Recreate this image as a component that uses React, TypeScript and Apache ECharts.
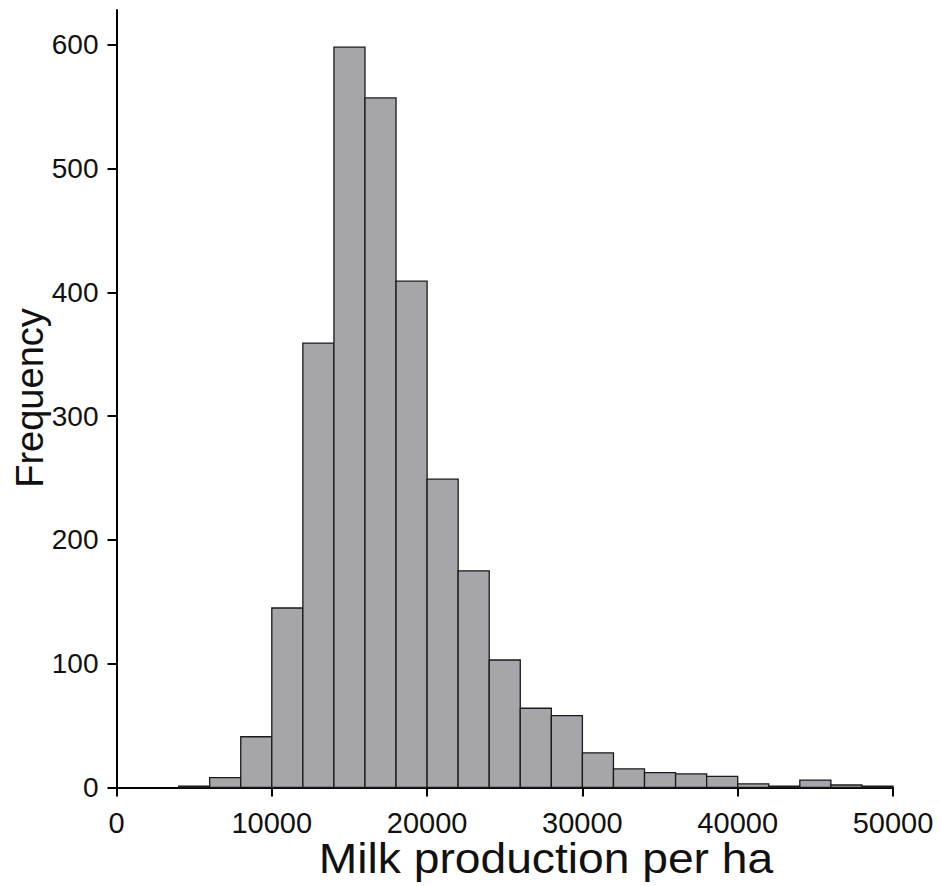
import React, { useEffect, useRef } from "react";
import * as echarts from "echarts";

const BIN_WIDTH = 2000;
const binStarts = [4000, 6000, 8000, 10000, 12000, 14000, 16000, 18000, 20000, 22000, 24000, 26000, 28000, 30000, 32000, 34000, 36000, 38000, 40000, 42000, 44000, 46000, 48000];
const counts = [1, 8, 41, 145, 359, 598, 557, 409, 249, 175, 103, 64, 58, 28, 15, 12, 11, 9, 3, 1, 6, 2, 1];
const yTicks = [0, 100, 200, 300, 400, 500, 600];
const xTicks = [0, 10000, 20000, 30000, 40000, 50000];
const xTitle = "Milk production per ha";
const yTitle = "Frequency";

const FONT = "'Liberation Sans', Arial, sans-serif";

export default function App() {
  const ref = useRef<HTMLDivElement>(null);
  useEffect(() => {
    document.body.style.margin = "0";
    const chart = echarts.init(ref.current!, null, { renderer: "svg" });
    const data = binStarts.map((s, i) => [s, s + BIN_WIDTH, counts[i]]);
    chart.setOption({
      animation: false,
      backgroundColor: "#ffffff",
      grid: { left: 116.5, right: 48, top: 10, bottom: 98.5, containLabel: false },
      xAxis: {
        type: "value",
        min: 0,
        max: 50000,
        interval: 10000,
        splitLine: { show: false },
        axisLine: { show: true, onZero: false, lineStyle: { color: "#000", width: 2 } },
        axisTick: { show: true, length: 9, lineStyle: { color: "#000", width: 2 }, customValues: xTicks },
        axisLabel: {
          color: "#111",
          fontSize: 29,
          fontFamily: FONT,
          margin: 21,
          customValues: xTicks,
          formatter: (v: number) => String(v),
        },
      },
      yAxis: {
        type: "value",
        min: 0,
        max: 628,
        interval: 100,
        splitLine: { show: false },
        axisLine: { show: true, onZero: false, lineStyle: { color: "#000", width: 2 } },
        axisTick: { show: true, length: 9, lineStyle: { color: "#000", width: 2 }, customValues: yTicks },
        axisLabel: {
          color: "#111",
          fontSize: 28,
          fontFamily: FONT,
          margin: 18,
          customValues: yTicks,
          formatter: (v: number) => String(v),
        },
      },
      graphic: [
        {
          type: "text",
          x: 546,
          y: 858,
          scaleX: 1.1,
          style: { text: xTitle, fontSize: 42, fontFamily: FONT, fill: "#111", textAlign: "center", textVerticalAlign: "middle" },
        },
        {
          type: "text",
          x: 30,
          y: 398,
          rotation: Math.PI / 2,
          style: { text: yTitle, fontSize: 38, fontFamily: FONT, fill: "#111", textAlign: "center", textVerticalAlign: "middle" },
        },
      ],
      series: [
        {
          type: "custom",
          data,
          encode: { x: [0, 1], y: 2 },
          renderItem: (params: any, api: any) => {
            const x0 = api.value(0);
            const x1 = api.value(1);
            const v = api.value(2);
            const p0 = api.coord([x0, v]);
            const p1 = api.coord([x1, 0]);
            return {
              type: "rect",
              shape: { x: p0[0], y: p0[1], width: p1[0] - p0[0], height: p1[1] - p0[1] },
              style: { fill: "#a6a5aa", stroke: "#1a1a1a", lineWidth: 1.3 },
            };
          },
        },
      ],
    });
    return () => chart.dispose();
  }, []);
  return <div ref={ref} style={{ width: 941, height: 886 }} />;
}
